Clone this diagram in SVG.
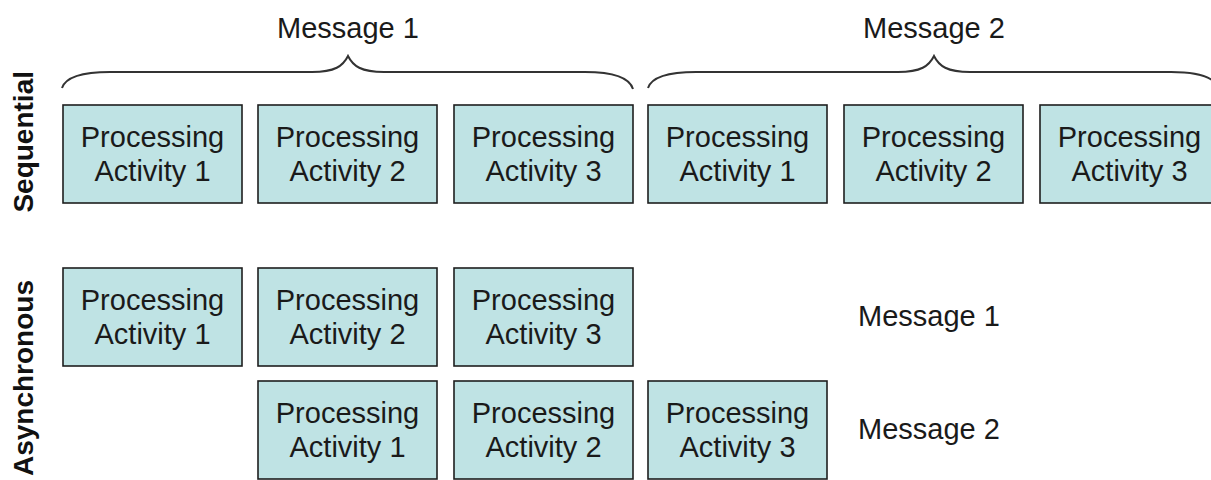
<svg xmlns="http://www.w3.org/2000/svg" width="1211" height="480" viewBox="0 0 1211 480">
<style>
.box rect{fill:#bfe3e4;stroke:#1e1e1e;stroke-width:1.6}
.t{font-family:"Liberation Sans",Arial,sans-serif;font-size:29px;fill:#1a1a1a;text-anchor:middle}
.lbl{font-family:"Liberation Sans",Arial,sans-serif;font-size:29px;fill:#1a1a1a}
.side{font-family:"Liberation Sans",Arial,sans-serif;font-size:28px;font-weight:bold;fill:#111;text-anchor:end}
.brace{fill:none;stroke:#333;stroke-width:2}
</style>
<defs>
<path id="bracePath" d="M62,88 C66,76 85,72 110,72 L312,72 C335,72 343,66 348,56 C353,66 361,72 384,72 L585,72 C610,72 629,76 633,89"/>
</defs>
<rect width="1211" height="480" fill="#fff"/>
<g id="connectors">
<use href="#bracePath" class="brace"/>
<use href="#bracePath" class="brace" transform="translate(586,0)"/>
</g>
<g id="labels">
<text class="lbl" x="348" y="38" text-anchor="middle">Message 1</text>
<text class="lbl" x="934" y="38" text-anchor="middle">Message 2</text>
<text class="lbl" x="858" y="326">Message 1</text>
<text class="lbl" x="858" y="439">Message 2</text>
<text class="side" transform="translate(33,71) rotate(-90)">Sequential</text>
<text class="side" transform="translate(33,280) rotate(-90)">Asynchronous</text>
</g>
<g id="seq1" class="box"><rect x="63" y="105" width="179" height="98"/><text class="t" x="152.5" y="147">Processing</text><text class="t" x="152.5" y="181">Activity 1</text></g>
<g id="seq2" class="box"><rect x="258" y="105" width="179" height="98"/><text class="t" x="347.5" y="147">Processing</text><text class="t" x="347.5" y="181">Activity 2</text></g>
<g id="seq3" class="box"><rect x="454" y="105" width="179" height="98"/><text class="t" x="543.5" y="147">Processing</text><text class="t" x="543.5" y="181">Activity 3</text></g>
<g id="seq4" class="box"><rect x="648" y="105" width="179" height="98"/><text class="t" x="737.5" y="147">Processing</text><text class="t" x="737.5" y="181">Activity 1</text></g>
<g id="seq5" class="box"><rect x="844" y="105" width="179" height="98"/><text class="t" x="933.5" y="147">Processing</text><text class="t" x="933.5" y="181">Activity 2</text></g>
<g id="seq6" class="box"><rect x="1040" y="105" width="179" height="98"/><text class="t" x="1129.5" y="147">Processing</text><text class="t" x="1129.5" y="181">Activity 3</text></g>
<g id="async1a" class="box"><rect x="63" y="268" width="179" height="98"/><text class="t" x="152.5" y="310">Processing</text><text class="t" x="152.5" y="344">Activity 1</text></g>
<g id="async1b" class="box"><rect x="258" y="268" width="179" height="98"/><text class="t" x="347.5" y="310">Processing</text><text class="t" x="347.5" y="344">Activity 2</text></g>
<g id="async1c" class="box"><rect x="454" y="268" width="179" height="98"/><text class="t" x="543.5" y="310">Processing</text><text class="t" x="543.5" y="344">Activity 3</text></g>
<g id="async2a" class="box"><rect x="258" y="381" width="179" height="98"/><text class="t" x="347.5" y="423">Processing</text><text class="t" x="347.5" y="457">Activity 1</text></g>
<g id="async2b" class="box"><rect x="454" y="381" width="179" height="98"/><text class="t" x="543.5" y="423">Processing</text><text class="t" x="543.5" y="457">Activity 2</text></g>
<g id="async2c" class="box"><rect x="648" y="381" width="179" height="98"/><text class="t" x="737.5" y="423">Processing</text><text class="t" x="737.5" y="457">Activity 3</text></g>
</svg>
